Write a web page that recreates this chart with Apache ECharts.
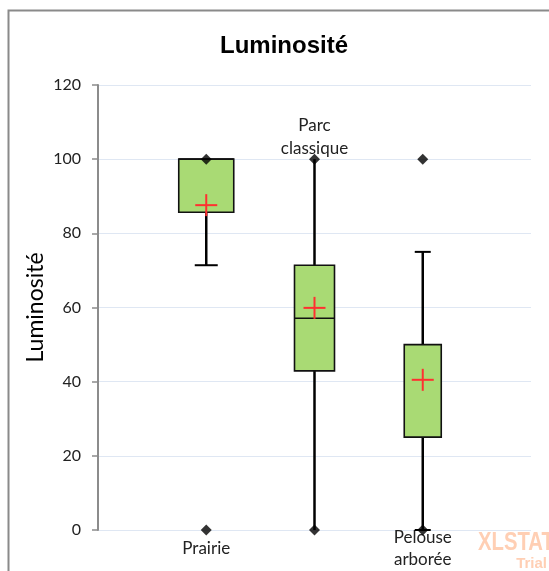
<!DOCTYPE html>
<html><head><meta charset="utf-8">
<script src="https://cdn.jsdelivr.net/npm/echarts@6/dist/echarts.min.js"></script>
<style>html,body{margin:0;padding:0;background:#fff}#c{width:549px;height:571px}</style>
</head><body><div id="c"></div>
<script>
// ---- data ----
const categories = ['Prairie', 'Parc\nclassique', 'Pelouse\narborée'];
const whiskerLow = [71.4, 0, 0];
const q1 = [85.7, 42.9, 25];
const median = [100, 57.1, 25];
const q3 = [100, 71.4, 50];
const whiskerHigh = [100, 100, 75];
const means = [87.6, 59.9, 40.5];
const extremes = [[1, 100], [1, 0], [2, 0], [2, 100], [3, 100], [3, 0]];
const yTicks = [0, 20, 40, 60, 80, 100, 120];

// ---- styles ----
const boxWidthsPx = [55, 40, 37];
const capWidthsPx = [23, 0, 16];

const boxData = categories.map((c, i) => [i + 1, whiskerLow[i], q1[i], median[i], q3[i], whiskerHigh[i], means[i]]);

const chart = echarts.init(document.getElementById('c'), null, {renderer: 'canvas'});
const labelFont = 'Lato, Carlito, "Noto Sans", sans-serif';

function renderBox(params, api) {
  const i = params.dataIndex;
  const x = api.value(0);
  const pLow = api.coord([x, api.value(1)]);
  const pQ1 = api.coord([x, api.value(2)]);
  const pMed = api.coord([x, api.value(3)]);
  const pQ3 = api.coord([x, api.value(4)]);
  const pHigh = api.coord([x, api.value(5)]);
  const pMean = api.coord([x, api.value(6)]);
  const w = boxWidthsPx[i], cw = capWidthsPx[i];
  const cx = pQ1[0];
  const ws = {stroke: '#000', lineWidth: 2.5};
  const children = [
    {type: 'line', shape: {x1: cx, y1: pLow[1], x2: cx, y2: pQ1[1]}, style: ws},
    {type: 'line', shape: {x1: cx, y1: pQ3[1], x2: cx, y2: pHigh[1]}, style: ws}
  ];
  if (cw > 0) {
    if (pLow[1] !== pQ1[1]) children.push({type: 'line', shape: {x1: cx - cw / 2, y1: pLow[1], x2: cx + cw / 2, y2: pLow[1]}, style: {stroke: '#000', lineWidth: 2}});
    if (pHigh[1] !== pQ3[1]) children.push({type: 'line', shape: {x1: cx - cw / 2, y1: pHigh[1], x2: cx + cw / 2, y2: pHigh[1]}, style: {stroke: '#000', lineWidth: 2}});
  }
  children.push({type: 'rect', shape: {x: cx - w / 2, y: pQ3[1], width: w, height: pQ1[1] - pQ3[1]}, style: {fill: '#a9da74', stroke: '#111', lineWidth: 1.6}});
  children.push({type: 'line', shape: {x1: cx - w / 2, y1: pMed[1], x2: cx + w / 2, y2: pMed[1]}, style: {stroke: '#111', lineWidth: 1.6}});
  const m = 11;
  children.push({type: 'line', shape: {x1: cx - m, y1: pMean[1], x2: cx + m, y2: pMean[1]}, style: {stroke: '#ff3030', lineWidth: 2}});
  children.push({type: 'line', shape: {x1: cx, y1: pMean[1] - m, x2: cx, y2: pMean[1] + m}, style: {stroke: '#ff3030', lineWidth: 2}});
  return {type: 'group', children};
}

const option = {
  animation: false,
  title: {text: 'Luminosité', left: 215, top: 29, textStyle: {fontFamily: '"Liberation Sans", Arial, sans-serif', fontSize: 24, fontWeight: 'bold', color: '#000'}},
  grid: {left: 98, right: 18, top: 85, bottom: 41, containLabel: false},
  xAxis: [{
    type: 'value', min: 0, max: 4, interval: 1,
    axisLine: {show: false}, axisTick: {show: false}, splitLine: {show: false},
    axisLabel: {
      margin: 19, verticalAlign: 'middle', lineHeight: 22, fontFamily: labelFont, fontSize: 17, color: '#222',
      formatter: v => (v === 1 || v === 3) ? categories[v - 1] : ''
    }
  }, {
    type: 'value', position: 'top', min: 0, max: 4, interval: 1,
    axisLine: {show: false}, axisTick: {show: false}, splitLine: {show: false},
    axisLabel: {
      inside: true, margin: 52, verticalAlign: 'middle', lineHeight: 23, fontFamily: labelFont, fontSize: 17, color: '#222',
      formatter: v => v === 2 ? categories[1] : ''
    }
  }],
  yAxis: {
    type: 'value', min: yTicks[0], max: yTicks[yTicks.length - 1], interval: 20,
    name: 'Luminosité', nameLocation: 'middle', nameGap: 51, nameRotate: 90, nameMoveOverlap: false,
    nameTextStyle: {fontFamily: labelFont, fontSize: 23, color: '#000'},
    axisLine: {show: true, lineStyle: {color: '#8c8c8c', width: 2}},
    axisTick: {show: true, length: 6, lineStyle: {color: '#8c8c8c', width: 1.5}},
    axisLabel: {margin: 17, fontFamily: labelFont, fontSize: 16, color: '#222'},
    splitLine: {show: true, lineStyle: {color: '#dfe7f3', width: 1.2}}
  },
  graphic: [
    {type: 'rect', left: 6, top: 8, shape: {width: 560, height: 580}, style: {fill: 'none', stroke: '#8a8a8a', lineWidth: 2}, silent: true},
    {type: 'text', x: 478, y: 530, scaleX: 0.78, style: {text: 'XLSTAT', fontFamily: '"Liberation Sans", Arial, sans-serif', fontSize: 26, fontWeight: 'bold', fill: '#ffcfb4'}},
    {type: 'text', right: 2, top: 556, style: {text: 'Trial', fontFamily: '"Liberation Sans", Arial, sans-serif', fontSize: 15, fontWeight: 'bold', fill: '#ffcfb4'}}
  ],
  series: [{
    type: 'custom', renderItem: renderBox, data: boxData, encode: {x: 0, y: [1, 2, 3, 4, 5]}, z: 2
  }, {
    type: 'scatter', data: extremes, symbol: 'diamond', symbolSize: 11,
    itemStyle: {color: '#000'}, z: 5
  }]
};
chart.setOption(option);
</script></body></html>
